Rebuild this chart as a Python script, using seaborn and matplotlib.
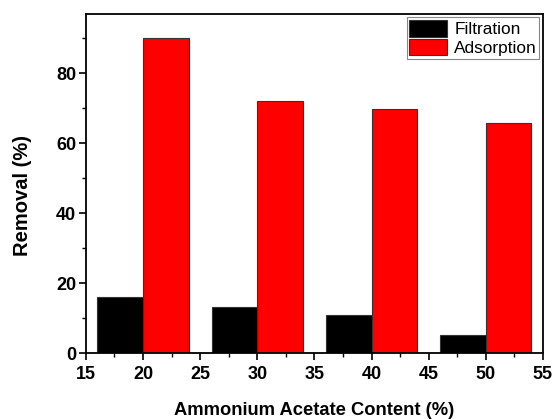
import matplotlib
matplotlib.use("Agg")
import matplotlib.pyplot as plt
from matplotlib.ticker import MultipleLocator
import seaborn as sns
import pandas as pd

content = [20, 30, 40, 50]
filtration = [16.1, 13.2, 10.8, 5.1]
adsorption = [90.0, 72.2, 69.9, 65.9]

df = pd.DataFrame({
    "content": content * 2,
    "removal": filtration + adsorption,
    "method": ["Filtration"] * 4 + ["Adsorption"] * 4,
})

sns.set_theme(style="ticks")
plt.rcParams['font.family'] = ['Liberation Sans', 'DejaVu Sans']
plt.rcParams.update({"text.color": "black", "axes.labelcolor": "black",
                     "xtick.color": "black", "ytick.color": "black"})

fig = plt.figure(figsize=(5.54, 4.19), dpi=100)
ax = fig.add_axes([0.155, 0.1575, 0.825, 0.809])

sns.barplot(data=df, x="content", y="removal", hue="method",
            palette={"Filtration": "#000000", "Adsorption": "#ff0000"},
            native_scale=True, width=0.8, saturation=1,
            edgecolor="#333333", linewidth=0.8,
            errorbar=None, ax=ax)

ax.set_xlim(15, 55)
ax.set_ylim(0, 97)
ax.xaxis.set_major_locator(MultipleLocator(5))
ax.xaxis.set_minor_locator(MultipleLocator(2.5))
ax.yaxis.set_major_locator(MultipleLocator(20))
ax.yaxis.set_minor_locator(MultipleLocator(10))
ax.tick_params(which="major", direction="out", length=5, width=1.2, labelsize=13,
               color="black", labelcolor="black")
ax.tick_params(axis="x", which="major", pad=4)
ax.tick_params(axis="y", which="major", pad=2)
ax.tick_params(which="minor", direction="out", length=3, width=1.0, color="black")
for lab in ax.get_xticklabels() + ax.get_yticklabels():
    lab.set_fontweight("bold")
for s in ax.spines.values():
    s.set_linewidth(1.3)
    s.set_color("black")

ax.set_xlabel("Ammonium Acetate Content (%)", fontsize=13.2, fontweight="bold", labelpad=14)
ax.set_ylabel("Removal (%)", fontsize=14.5, fontweight="bold")
ax.yaxis.set_label_coords(-0.118, 0.465)

leg = ax.legend(loc="upper right", fontsize=12.4, frameon=True, fancybox=False,
                edgecolor="#888888", framealpha=1, handlelength=2.2, handleheight=1.1,
                labelspacing=0.1, handletextpad=0.4, borderpad=0.15, borderaxespad=0.2)
leg.get_frame().set_linewidth(0.8)

fig.savefig("out.png", dpi=100)
